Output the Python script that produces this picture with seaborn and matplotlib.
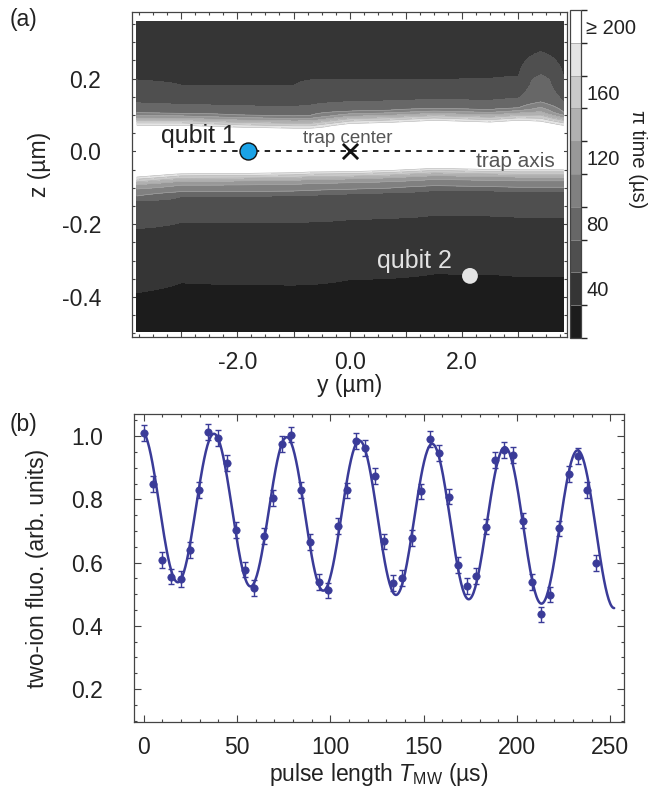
import numpy as np
import matplotlib
matplotlib.use("Agg")
import matplotlib.pyplot as plt
from matplotlib.colors import ListedColormap, BoundaryNorm
from matplotlib.ticker import MultipleLocator, FixedLocator, FuncFormatter
import seaborn as sns

# ---- (a) pi-time map ----
# pi time across the trap (z, um) at a reference column, read off the contour bands
z_profile = [-0.50, -0.361, -0.196, -0.125, -0.113, -0.095, -0.082, -0.070, -0.059,
             0.0, 0.065, 0.075, 0.085, 0.095, 0.106, 0.133, 0.196, 0.36]
t_profile = [20, 30, 50, 70, 90, 110, 135, 170, 210,
             600, 210, 180, 150, 120, 90, 70, 50, 35]
# how the bands move up/down along the trap axis (y, um):
# inner = edge of the white region, outer = darkest band edge
y_columns = [-3.79, -3.0, -2.0, -1.0, -0.7, 0.0, 0.7, 1.5, 2.5, 3.0, 3.4, 3.81]
upper_outer_shift = [0.0, -0.018, -0.018, -0.018, 0.0, 0.0, 0.0, 0.0, 0.004, 0.01, 0.078, 0.009]
upper_inner_shift = [0.0, 0.0, -0.005, -0.008, -0.008, 0.005, 0.008, 0.014, 0.009, 0.014, 0.01, 0.0]
lower_inner_shift = [-0.005, 0.003, 0.004, 0.006, 0.008, 0.009, 0.012, 0.018, 0.015, 0.014, 0.014, 0.014]
lower_outer_shift = [-0.027, 0.0, -0.005, -0.006, -0.005, 0.009, 0.012, 0.025, 0.025, 0.018, 0.018, 0.018]

pi_levels = [10, 30, 50, 70, 90, 110, 130, 150, 170, 190, 210]
gray_colors = ["#1c1c1c", "#353535", "#4f4f4f", "#676767", "#808080",
               "#989898", "#b1b1b1", "#cacaca", "#e4e4e4", "#ffffff"]
cbar_ticks = [40, 80, 120, 160, 200]
cbar_labels = ["40", "80", "120", "160", "≥ 200"]

qubit1_pos = (-1.81, 0.0)
qubit2_pos = (2.14, -0.342)
trap_center = (0.0, 0.0)
trap_axis_span = [-3.06, 3.05]

# ---- (b) Rabi oscillation of two ions ----
pulse_us = [0, 5, 9.9, 14.8, 19.8, 24.7, 29.6, 34.6, 39.5, 44.5,
            49.4, 54.4, 59.3, 64.3, 69.2, 74.2, 79.1, 84.1, 89.0, 94.0,
            98.9, 103.9, 108.8, 113.8, 118.7, 123.7, 128.6, 133.6, 138.5, 143.5,
            148.4, 153.4, 158.3, 163.3, 168.2, 173.2, 178.1, 183.1, 188.0, 193.0,
            197.9, 202.9, 207.8, 212.8, 217.7, 222.7, 227.6, 232.6, 237.5, 242.5]
fluo = [1.011, 0.848, 0.609, 0.556, 0.549, 0.641, 0.830, 1.013, 0.995, 0.914,
        0.703, 0.578, 0.519, 0.683, 0.803, 0.974, 1.005, 0.830, 0.664, 0.539,
        0.512, 0.716, 0.828, 0.985, 0.962, 0.874, 0.667, 0.535, 0.551, 0.678,
        0.825, 0.990, 0.947, 0.809, 0.592, 0.527, 0.557, 0.714, 0.924, 0.957,
        0.940, 0.733, 0.539, 0.436, 0.499, 0.708, 0.880, 0.936, 0.830, 0.598]
fluo_err = 0.025
rabi_period_us = 38.8
fit_end_us = 252

sns.set_theme(style="ticks")
plt.rcParams["font.family"] = ["Liberation Sans", "DejaVu Sans"]
plt.rcParams["mathtext.fontset"] = "custom"
plt.rcParams["mathtext.rm"] = "Liberation Sans"
plt.rcParams["mathtext.it"] = "Liberation Sans:italic"
plt.rcParams["axes.edgecolor"] = "#444444"
plt.rcParams["axes.linewidth"] = 0.9

FS = 16.5
INK = "#222222"
BLUE = "#3a3b98"

fig = plt.figure(figsize=(6.6, 7.87), dpi=100)
ax_a = fig.add_axes([0.1995, 0.5722, 0.659, 0.413])
cax = fig.add_axes([0.8636, 0.5705, 0.0162, 0.4168])
ax_b = fig.add_axes([0.2023, 0.0826, 0.7424, 0.391])

# build the map from the profile and the column shifts
z_grid = np.linspace(-0.496, 0.356, 500)
Y, Z = np.meshgrid(y_columns, z_grid)
up_w = np.clip((Z - 0.065) / (0.196 - 0.065), 0, 1) ** 2
lo_w = np.clip((-0.059 - Z) / (0.361 - 0.059), 0, 1)
up = np.array(upper_inner_shift) + (np.array(upper_outer_shift) - np.array(upper_inner_shift)) * up_w
lo = np.array(lower_inner_shift) + (np.array(lower_outer_shift) - np.array(lower_inner_shift)) * lo_w
shift = np.where(Z > 0, up, lo)
T = np.interp(Z - shift, z_profile, t_profile)
T = np.clip(T, 11, 209)

cmap = ListedColormap(gray_colors)
norm = BoundaryNorm(pi_levels, cmap.N)
cs = ax_a.contourf(Y, Z, T, levels=pi_levels, cmap=cmap, norm=norm)
ax_a.contour(Y, Z, T, levels=pi_levels[4:-1], colors="#a8a8a8", linewidths=0.4)

ax_a.plot(trap_axis_span, [0, 0], color="#111111", lw=1.3, ls=(0, (3, 3)), zorder=3)
ax_a.scatter(*qubit1_pos, s=150, color="#1aa2e6", edgecolor="#111111", lw=1.0, zorder=5)
ax_a.scatter(*qubit2_pos, s=130, color="#e4e4e4", edgecolor="none", zorder=5)
ax_a.scatter(*trap_center, s=120, marker="x", color="#111111", lw=2.0, zorder=5)

ax_a.text(-3.36, 0.022, "qubit 1", fontsize=18, color=INK, ha="left", va="baseline", zorder=6)
ax_a.text(-0.83, 0.024, "trap center", fontsize=13.5, color="#555555", ha="left", va="baseline", zorder=6)
ax_a.text(2.24, -0.042, "trap axis", fontsize=15, color="#555555", ha="left", va="baseline", zorder=6)
ax_a.text(0.49, -0.321, "qubit 2", fontsize=18, color="#e2e2e2", ha="left", va="baseline", zorder=6)

ax_a.set_xlim(-3.88, 3.86)
ax_a.set_ylim(-0.509, 0.384)
ax_a.xaxis.set_major_locator(FixedLocator([-3, -2, -1, 0, 1, 2, 3]))
ax_a.xaxis.set_major_formatter(FuncFormatter(lambda v, p: f"{v:.1f}" if round(v) % 2 == 0 else ""))
ax_a.xaxis.set_minor_locator(MultipleLocator(0.25))
ax_a.yaxis.set_major_locator(MultipleLocator(0.2))
ax_a.yaxis.set_major_formatter(FuncFormatter(lambda v, p: f"{v:.1f}".replace("-0.0", "0.0")))
ax_a.yaxis.set_minor_locator(MultipleLocator(0.05))
ax_a.set_xlabel("y (µm)", fontsize=FS, color=INK)
ax_a.set_ylabel("z (µm)", fontsize=FS, color=INK)
ax_a.yaxis.set_label_coords(-0.185, 0.53)
ax_a.xaxis.set_label_coords(0.5, -0.115)

cb = fig.colorbar(cs, cax=cax, ticks=cbar_ticks, drawedges=True)
cb.ax.set_yticklabels(cbar_labels)
cb.ax.tick_params(length=0, pad=4, labelsize=14.5, labelcolor=INK)
cb.outline.set_edgecolor("#444444")
cb.outline.set_linewidth(0.9)
cb.dividers.set_color("#9a9a9a")
cb.dividers.set_linewidth(0.5)
cb.set_label("π time (µs)", rotation=270, fontsize=14.5, color=INK, va="center")
cb.ax.yaxis.set_label_coords(6.3, 0.545)

# (b) fit: cosine with slowly drifting offset and amplitude, least squares on the data
t_arr = np.asarray(pulse_us)
w = 2 * np.pi / rabi_period_us
def design(t):
    return np.column_stack([np.ones_like(t), t, np.cos(w * t), t * np.cos(w * t),
                            np.sin(w * t), t * np.sin(w * t)])
coef, *_ = np.linalg.lstsq(design(t_arr), np.asarray(fluo), rcond=None)
t_fit = np.linspace(0, fit_end_us, 600)
y_fit = design(t_fit) @ coef

sns.lineplot(x=t_fit, y=y_fit, color=BLUE, lw=1.8, ax=ax_b, zorder=2)
ax_b.errorbar(pulse_us, fluo, yerr=fluo_err, fmt="none", ecolor=BLUE, elinewidth=1.0,
              capsize=2.5, capthick=1.0, zorder=3)
sns.scatterplot(x=pulse_us, y=fluo, color=BLUE, s=28, edgecolor=BLUE, linewidth=0.5,
                ax=ax_b, zorder=4)

ax_b.set_xlim(-5.5, 257)
ax_b.set_ylim(0.096, 1.069)
ax_b.xaxis.set_major_locator(MultipleLocator(50))
ax_b.xaxis.set_minor_locator(MultipleLocator(10))
ax_b.yaxis.set_major_locator(FixedLocator([0.2, 0.4, 0.6, 0.8, 1.0]))
ax_b.yaxis.set_major_formatter(FuncFormatter(lambda v, p: f"{v:.1f}"))
ax_b.yaxis.set_minor_locator(MultipleLocator(0.05))
ax_b.set_xlabel(r"pulse length $T_{\rm MW}$ (µs)", fontsize=FS, color=INK)
ax_b.set_ylabel("two-ion fluo. (arb. units)", fontsize=FS, color=INK)
ax_b.yaxis.set_label_coords(-0.172, 0.5)
ax_b.xaxis.set_label_coords(0.5, -0.128)

for ax in (ax_a, ax_b):
    ax.tick_params(which="both", direction="in", top=True, right=True,
                   colors="#444444", labelcolor=INK, labelsize=FS, width=0.8)
    ax.tick_params(which="major", length=5)
    ax.tick_params(which="minor", length=2.5)
    ax.tick_params(axis="y", pad=22)
    ax.tick_params(axis="x", pad=10)

fig.text(0.015, 0.975, "(a)", fontsize=FS, color=INK, ha="left", va="center")
fig.text(0.015, 0.46, "(b)", fontsize=FS, color=INK, ha="left", va="center")

fig.savefig("out.png", dpi=100)
